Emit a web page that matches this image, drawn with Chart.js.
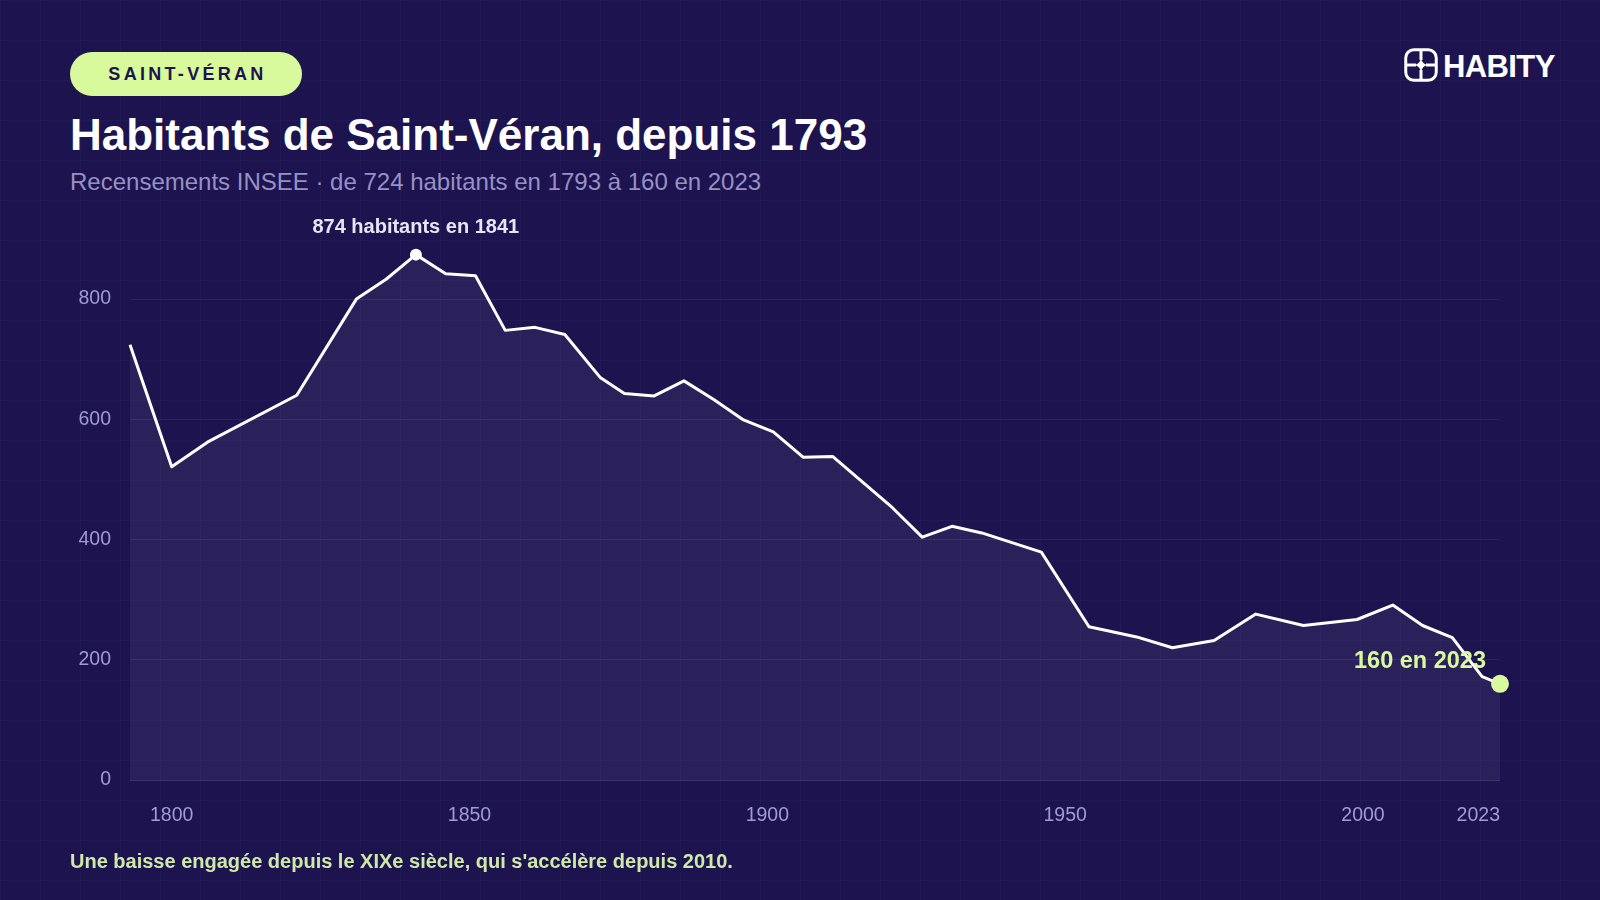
<!DOCTYPE html>
<html lang="fr">
<head>
<meta charset="utf-8">
<title>Habitants de Saint-Véran, depuis 1793</title>
<script src="https://cdn.jsdelivr.net/npm/chart.js@4.4.0/dist/chart.umd.min.js"></script>
<style>
  html, body { margin: 0; padding: 0; }
  body {
    width: 1600px; height: 900px; overflow: hidden; position: relative;
    background-color: #1c134f;
    background-image:
      linear-gradient(rgba(255,255,255,0.025) 1px, transparent 1px),
      linear-gradient(90deg, rgba(255,255,255,0.025) 1px, transparent 1px);
    background-size: 40px 40px;
    font-family: "Liberation Sans", Arial, Helvetica, sans-serif;
  }
  #chart { position: absolute; left: 0; top: 0; }
  .pill {
    position: absolute; left: 70px; top: 52px; width: 232px; height: 44px;
    border-radius: 22px; background: #d9f99d; color: #1c134f;
    font-weight: 700; font-size: 18px; letter-spacing: 3.3px;
    display: flex; align-items: center; justify-content: center;
    box-sizing: border-box; padding-left: 3px;
  }
  .title {
    position: absolute; left: 70px; top: 113px; margin: 0;
    font-size: 44px; line-height: 44px; font-weight: 700; color: #ffffff; white-space: nowrap;
  }
  .subtitle {
    position: absolute; left: 70px; top: 170px; margin: 0;
    font-size: 24px; line-height: 24px; color: #9891c4; white-space: nowrap;
  }
  .footnote {
    position: absolute; left: 70px; top: 851px; margin: 0;
    font-size: 20px; line-height: 20px; font-weight: 700; color: #cfeaa8; white-space: nowrap;
  }
  .logo { position: absolute; left: 1404px; top: 48px; height: 34px; }
  .logo svg { position: absolute; left: 0; top: 0; }
  .logo .brand {
    position: absolute; left: 39px; top: 3px; font-size: 31px; line-height: 31px;
    font-weight: 700; color: #ffffff; letter-spacing: -0.6px; white-space: nowrap;
  }
  .ann { position: absolute; white-space: nowrap; font-weight: 700; }
  #peakLabel { font-size: 20px; line-height: 20px; color: #e8e5f7; }
  #lastLabel { font-size: 23.5px; line-height: 23.5px; color: #d9f99d; }
</style>
</head>
<body>
<div class="pill">SAINT-VÉRAN</div>
<h1 class="title">Habitants de Saint-Véran, depuis 1793</h1>
<p class="subtitle">Recensements INSEE · de 724 habitants en 1793 à 160 en 2023</p>
<div class="logo">
  <svg width="34" height="34" viewBox="0 0 34 34">
    <rect x="1.75" y="1.75" width="30.5" height="30.5" rx="8" ry="8" fill="none" stroke="#ffffff" stroke-width="3"/>
    <line x1="17" y1="2" x2="17" y2="12" stroke="#ffffff" stroke-width="3"/>
    <line x1="17" y1="22" x2="17" y2="32" stroke="#ffffff" stroke-width="3"/>
    <line x1="2" y1="17" x2="12" y2="17" stroke="#ffffff" stroke-width="3"/>
    <line x1="22" y1="17" x2="32" y2="17" stroke="#ffffff" stroke-width="3"/>
    <path d="M17 10 Q18 16 24 17 Q18 18 17 24 Q16 18 10 17 Q16 16 17 10 Z" fill="#ffffff"/>
  </svg>
  <span class="brand">HABITY</span>
</div>
<canvas id="chart" width="1600" height="900"></canvas>
<div class="ann" id="peakLabel">874 habitants en 1841</div>
<div class="ann" id="lastLabel">160 en 2023</div>
<p class="footnote">Une baisse engagée depuis le XIXe siècle, qui s'accélère depuis 2010.</p>

<script>
// ---- Data ----
const years = [1793,1800,1806,1821,1831,1836,1841,1846,1851,1856,1861,1866,1872,1876,1881,1886,1891,1896,1901,1906,1911,1921,1926,1931,1936,1946,1954,1962,1968,1975,1982,1990,1999,2005,2010,2015,2020,2023];
const population = [724,521,562,640,800,833,874,842,839,748,753,741,669,643,639,664,633,599,579,537,538,453,404,422,411,379,255,238,220,232,276,257,267,291,257,237,172,160];
const xTickYears = [1793,1800,1850,1900,1950,2000,2023];
const xTickLabels = ['','1800','1850','1900','1950','2000','2023'];
const yTickValues = [0,200,400,600,800];

const peakIndex = population.indexOf(Math.max(...population));
const lastIndex = population.length - 1;

const tickColor = '#a29bd0';
const tickFont = { family: '"Liberation Sans", Arial, Helvetica, sans-serif', size: 19.5 };

const chart = new Chart(document.getElementById('chart'), {
  type: 'line',
  data: {
    datasets: [{
      data: years.map((y, i) => ({ x: y, y: population[i] })),
      borderColor: '#ffffff',
      borderWidth: 3,
      borderJoinStyle: 'round',
      tension: 0,
      fill: 'origin',
      backgroundColor: 'rgba(230,220,255,0.07)',
      pointRadius: ctx => ctx.dataIndex === peakIndex ? 6 : (ctx.dataIndex === lastIndex ? 9 : 0),
      pointBackgroundColor: ctx => ctx.dataIndex === lastIndex ? '#d9f99d' : '#ffffff',
      pointBorderWidth: 0,
      pointHoverRadius: 0,
      clip: false
    }]
  },
  options: {
    responsive: false,
    animation: false,
    devicePixelRatio: 1,
    events: [],
    layout: { padding: { top: 239, right: 100, bottom: 0, left: 0 } },
    plugins: { legend: { display: false }, tooltip: { enabled: false } },
    scales: {
      x: {
        type: 'linear',
        min: 1793,
        max: 2023,
        afterBuildTicks: s => { s.ticks = xTickYears.map(v => ({ value: v })); },
        afterFit: s => { s.height = 120; },
        ticks: {
          autoSkip: false, maxRotation: 0, minRotation: 0, align: 'inner', padding: 16,
          color: tickColor, font: tickFont,
          callback: v => { const i = xTickYears.indexOf(v); return i >= 0 ? xTickLabels[i] : ''; }
        },
        grid: { display: false },
        border: { display: false }
      },
      y: {
        min: 0,
        max: 900,
        afterBuildTicks: s => { s.ticks = yTickValues.map(v => ({ value: v })); },
        afterFit: s => { s.width = 130; },
        ticks: { padding: 19, color: tickColor, font: tickFont, callback: v => String(v) },
        grid: {
          drawTicks: false,
          lineWidth: 1,
          color: ctx => ctx.tick && ctx.tick.value === 0 ? 'rgba(255,255,255,0.14)' : 'rgba(255,255,255,0.07)'
        },
        border: { display: false }
      }
    }
  }
});

// Position the annotation labels from the chart's own scales
const xs = chart.scales.x, ys = chart.scales.y;
const peakX = xs.getPixelForValue(years[peakIndex]);
const peakY = ys.getPixelForValue(population[peakIndex]);
const lastX = xs.getPixelForValue(years[lastIndex]);
const lastY = ys.getPixelForValue(population[lastIndex]);

const pl = document.getElementById('peakLabel');
pl.style.left = (peakX - pl.offsetWidth / 2) + 'px';
pl.style.top = (peakY - 39) + 'px';

const ll = document.getElementById('lastLabel');
ll.style.left = (lastX - 14 - ll.offsetWidth) + 'px';
ll.style.top = (lastY - 35) + 'px';
</script>
</body>
</html>
